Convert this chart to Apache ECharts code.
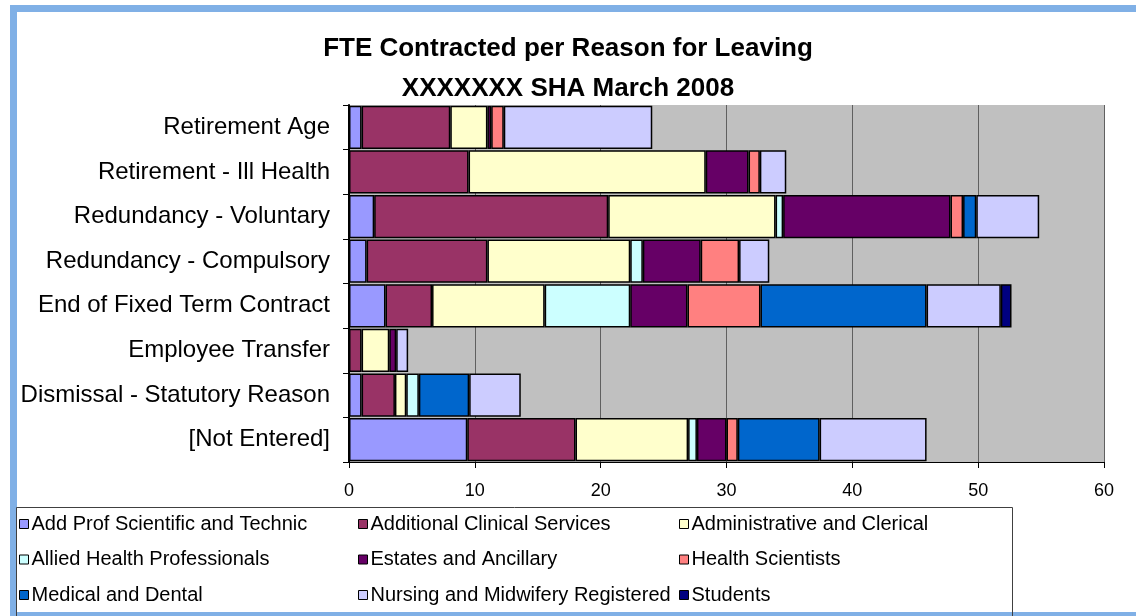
<!DOCTYPE html>
<html>
<head>
<meta charset="utf-8">
<script src="https://cdn.jsdelivr.net/npm/echarts@6/dist/echarts.min.js"></script>
<style>
  html, body { margin: 0; padding: 0; background: #fff; overflow: hidden; }
  #frame { position: absolute; left: 10px; top: 5px; width: 1200px; height: 600px;
           border: 7px solid #80b0e6; border-right: none; border-bottom-width: 5px; }
  #main { position: absolute; left: 0; top: 0; width: 1136px; height: 616px; }
</style>
</head>
<body>
<div id="frame"></div>
<div id="main"></div>
<script>
// reasons, top to bottom as shown
var reasons = ['Retirement Age', 'Retirement - Ill Health', 'Redundancy - Voluntary',
  'Redundancy - Compulsory', 'End of Fixed Term Contract', 'Employee Transfer',
  'Dismissal - Statutory Reason', '[Not Entered]'];

var groups = ['Add Prof Scientific and Technic', 'Additional Clinical Services',
  'Administrative and Clerical', 'Allied Health Professionals', 'Estates and Ancillary',
  'Health Scientists', 'Medical and Dental', 'Nursing and Midwifery Registered', 'Students'];

var colors = ['#9999ff', '#993366', '#ffffcc', '#ccffff', '#660066',
  '#ff8080', '#0066cc', '#ccccff', '#000080'];

// FTE per staff group, one value per reason (same order as reasons)
var addProf   = [1.0, 0,    2.0,  1.4,  2.9,  0,    1.0,  9.4];
var addClin   = [7.05, 9.5, 18.6, 9.6,  3.7,  1.0,  2.65, 8.6];
var admin     = [2.95, 18.85, 13.3, 11.35, 8.95, 2.2, 0.9, 8.95];
var allied    = [0,    0,    0.6,  1.0,  6.8,  0,    1.0,  0.7];
var estates   = [0.3,  3.4,  13.3, 4.6,  4.55, 0.55, 0,    2.35];
var healthSci = [1.0,  0.9,  1.0,  3.05, 5.8,  0,    0,    0.9];
var medical   = [0,    0,    1.05, 0,    13.2, 0,    4.0,  6.5];
var nursing   = [11.8, 2.1,  5.0,  2.4,  5.9,  0.95, 4.1,  8.5];
var students  = [0,    0,    0,    0,    0.85, 0,    0,    0];

var values = [addProf, addClin, admin, allied, estates, healthSci, medical, nursing, students];

var font = 'Arial, "Liberation Sans", sans-serif';

var series = groups.map(function (name, i) {
  return {
    name: name,
    type: 'bar',
    stack: 'fte',
    barCategoryGap: '3%',
    itemStyle: { color: colors[i], borderColor: '#000', borderWidth: 1.5 },
    emphasis: { disabled: true },
    data: values[i].map(function (v) { return v === 0 ? '-' : v; })
  };
});

function legendCol(names, left) {
  return {
    orient: 'vertical',
    left: left,
    top: 514,
    padding: 0,
    itemGap: 15.5,
    itemWidth: 9,
    itemHeight: 9,
    icon: 'rect',
    selectedMode: false,
    itemStyle: { borderColor: '#000', borderWidth: 1 },
    textStyle: { fontFamily: font, fontSize: 20, color: '#000', lineHeight: 20, padding: [0, 0, 0, -2] },
    data: names
  };
}

var myChart = echarts.init(document.getElementById('main'));
var option = {
  animation: false,
  backgroundColor: 'transparent',
  title: {
    text: 'FTE Contracted per Reason for Leaving\nXXXXXXX SHA March 2008',
    left: 'center',
    top: 24,
    textStyle: { fontFamily: font, fontSize: 26, fontWeight: 'bold', color: '#000', lineHeight: 40 }
  },
  legend: [
    legendCol([groups[0], groups[3], groups[6]], 19),
    legendCol([groups[1], groups[4], groups[7]], 358),
    legendCol([groups[2], groups[5], groups[8]], 679)
  ],
  grid: {
    left: 349, right: 32, top: 105, bottom: 154,
    show: true, backgroundColor: '#c0c0c0', borderWidth: 0
  },
  xAxis: {
    type: 'value',
    min: 0, max: 60, interval: 10,
    axisLine: { show: true, lineStyle: { color: '#000', width: 1 } },
    axisTick: { show: true, length: 6, lineStyle: { color: '#000' } },
    axisLabel: { fontFamily: font, fontSize: 18, color: '#000', margin: 20 },
    splitLine: { show: true, lineStyle: { color: '#606060', width: 1 } }
  },
  yAxis: {
    type: 'category',
    inverse: true,
    data: reasons,
    axisLine: { show: true, lineStyle: { color: '#000', width: 2 } },
    axisTick: { show: true, length: 6, lineStyle: { color: '#000' } },
    axisLabel: { fontFamily: font, fontSize: 24, color: '#000', margin: 19 }
  },
  graphic: [{
    type: 'rect',
    shape: { x: 16.5, y: 507.5, width: 996, height: 120 },
    style: { fill: 'none', stroke: '#404040', lineWidth: 1 },
    silent: true
  }],
  series: series
};
myChart.setOption(option);

window.onresize = function () {
  myChart.resize();
};
</script>
</body>
</html>
